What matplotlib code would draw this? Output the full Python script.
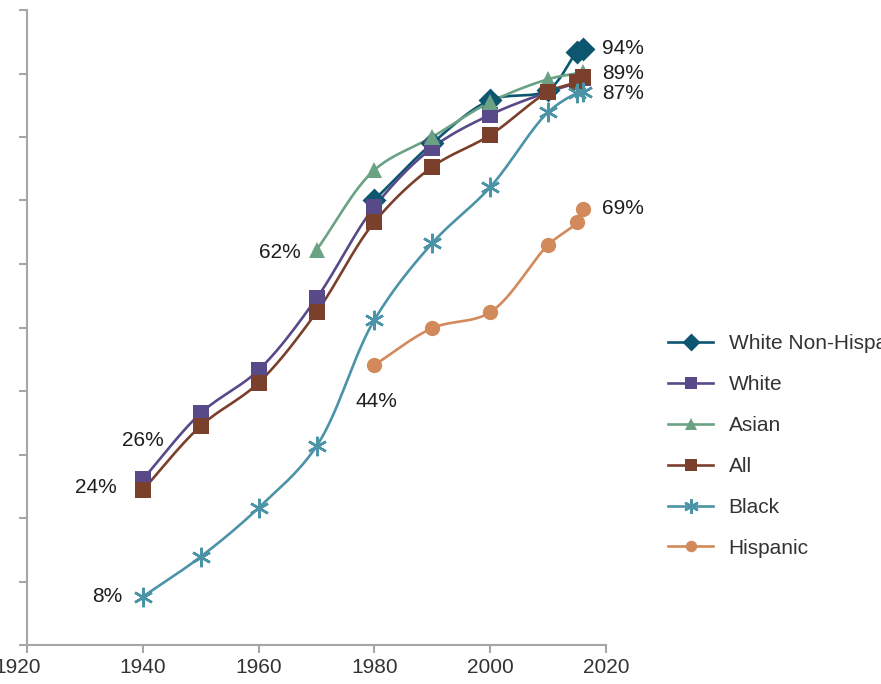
import numpy as np
import matplotlib.pyplot as plt
from matplotlib.transforms import ScaledTranslation

# completion rates (%) by group
years_wnh = [1980, 1990, 2000, 2010, 2015, 2016]
wnh = [70.1, 79.0, 85.8, 87.4, 93.4, 93.9]

years_white = [1940, 1950, 1960, 1970, 1980, 1990, 2000, 2010, 2015, 2016]
white = [26.1, 36.5, 43.3, 54.6, 69.0, 78.3, 83.5, 87.1, 88.6, 89.3]

years_asian = [1970, 1980, 1990, 2000, 2010, 2016]
asian = [62.2, 74.8, 80.0, 85.5, 89.1, 90.2]

years_all = [1940, 1950, 1960, 1970, 1980, 1990, 2000, 2010, 2015, 2016]
all_grp = [24.4, 34.5, 41.3, 52.4, 66.6, 75.3, 80.3, 87.1, 88.7, 89.4]

years_black = [1940, 1950, 1960, 1970, 1980, 1990, 2000, 2010, 2015, 2016]
black = [7.6, 13.9, 21.6, 31.3, 51.2, 63.3, 72.1, 83.9, 86.9, 87.1]

years_hisp = [1980, 1990, 2000, 2010, 2015, 2016]
hisp = [44.1, 49.9, 52.4, 63.0, 66.6, 68.7]

plt.rcParams['font.family'] = ['Liberation Sans', 'DejaVu Sans']


def smooth(xs, ys, n=30, alpha=0.5):
    # centripetal Catmull-Rom through the points, in rough screen units
    sx, sy = 5.8, 6.35
    p = np.column_stack([np.array(xs) * sx, np.array(ys) * sy])
    p = np.vstack([2 * p[0] - p[1], p, 2 * p[-1] - p[-2]])
    out = []
    for i in range(1, len(p) - 2):
        p0, p1, p2, p3 = p[i - 1], p[i], p[i + 1], p[i + 2]
        t0 = 0.0
        t1 = t0 + np.linalg.norm(p1 - p0) ** alpha
        t2 = t1 + np.linalg.norm(p2 - p1) ** alpha
        t3 = t2 + np.linalg.norm(p3 - p2) ** alpha
        t = np.linspace(t1, t2, n)[:, None]
        a1 = (t1 - t) / (t1 - t0) * p0 + (t - t0) / (t1 - t0) * p1
        a2 = (t2 - t) / (t2 - t1) * p1 + (t - t1) / (t2 - t1) * p2
        a3 = (t3 - t) / (t3 - t2) * p2 + (t - t2) / (t3 - t2) * p3
        b1 = (t2 - t) / (t2 - t0) * a1 + (t - t0) / (t2 - t0) * a2
        b2 = (t3 - t) / (t3 - t1) * a2 + (t - t1) / (t3 - t1) * a3
        out.append((t2 - t) / (t2 - t1) * b1 + (t - t1) / (t2 - t1) * b2)
    c = np.vstack(out)
    return c[:, 0] / sx, c[:, 1] / sy


fig = plt.figure(figsize=(8.81, 6.84), dpi=100)
ax = fig.add_axes([27 / 881, 39 / 684, 579 / 881, 635 / 684])

series = [
    ("White Non-Hispanic", years_wnh, wnh, '#0d5670', 'D', 10, 2),
    ("White", years_white, white, '#584a88', 's', 11, 0),
    ("Asian", years_asian, asian, '#6aa283', '^', 11, 0),
    ("All", years_all, all_grp, '#7b402b', 's', 11, 0),
    ("Black", years_black, black, '#4b93a6', (6, 2, 0), 14, 1.8),
    ("Hispanic", years_hisp, hisp, '#d28a5c', 'o', 11, 0),
]

for name, xs, ys, col, mk, ms, mew in series:
    cx, cy = smooth(xs, ys)
    ax.plot(cx, cy, color=col, lw=1.9, zorder=2)
    ax.plot(xs, ys, ls='none', marker=mk, ms=ms, color=col, mec=col, mew=mew, zorder=3)
    ax.plot([], [], color=col, lw=1.9, marker=mk, ms=ms * 0.75, mew=mew, label=name)

fs = 15
tc = '#1e1e1e'
ax.annotate("94%", (years_wnh[-1], wnh[-1]), xytext=(14, 0), textcoords='offset points',
            ha='left', va='center', fontsize=fs, color=tc)
ax.annotate("89%", (years_all[-1], all_grp[-1]), xytext=(14, 3), textcoords='offset points',
            ha='left', va='center', fontsize=fs, color=tc)
ax.annotate("87%", (years_black[-1], black[-1]), xytext=(14, -1), textcoords='offset points',
            ha='left', va='center', fontsize=fs, color=tc)
ax.annotate("69%", (years_hisp[-1], hisp[-1]), xytext=(14, 0), textcoords='offset points',
            ha='left', va='center', fontsize=fs, color=tc)
ax.annotate("62%", (years_asian[0], asian[0]), xytext=(-11.5, -1.5), textcoords='offset points',
            ha='right', va='center', fontsize=fs, color=tc)
ax.annotate("44%", (years_hisp[0], hisp[0]), xytext=(1.5, -26), textcoords='offset points',
            ha='center', va='center', fontsize=fs, color=tc)
ax.annotate("26%", (years_white[0], white[0]), xytext=(0, 28), textcoords='offset points',
            ha='center', va='center', fontsize=fs, color=tc)
ax.annotate("24%", (years_all[0], all_grp[0]), xytext=(-18.5, 1.5), textcoords='offset points',
            ha='right', va='center', fontsize=fs, color=tc)
ax.annotate("8%", (years_black[0], black[0]), xytext=(-15, 0), textcoords='offset points',
            ha='right', va='center', fontsize=fs, color=tc)

ax.set_xlim(1920, 2020)
ax.set_ylim(0, 100)
ax.set_xticks(range(1920, 2021, 20))
ax.set_yticks(range(0, 101, 10))
ax.set_yticklabels([])
ax.tick_params(axis='x', labelsize=fs, colors='#a6a6a6', labelcolor='#333333', length=6, width=1.5)
ax.tick_params(axis='y', colors='#a6a6a6', length=6, width=1.5)
for s in ['top', 'right']:
    ax.spines[s].set_visible(False)
for s in ['left', 'bottom']:
    ax.spines[s].set_color('#a6a6a6')
    ax.spines[s].set_linewidth(1.5)

# first year label sits against the left edge
first = ax.get_xticklabels()[0]
first.set_transform(first.get_transform() + ScaledTranslation(-9 / 100, 0, fig.dpi_scale_trans))

leg = fig.legend(loc='upper left', bbox_to_anchor=(660 / 881, 1 - 326 / 684), frameon=False,
                 fontsize=fs, handlelength=2.15, labelspacing=1.05, handletextpad=0.75,
                 borderaxespad=0)
for t in leg.get_texts():
    t.set_color('#333333')

fig.savefig('out.png', dpi=100)
